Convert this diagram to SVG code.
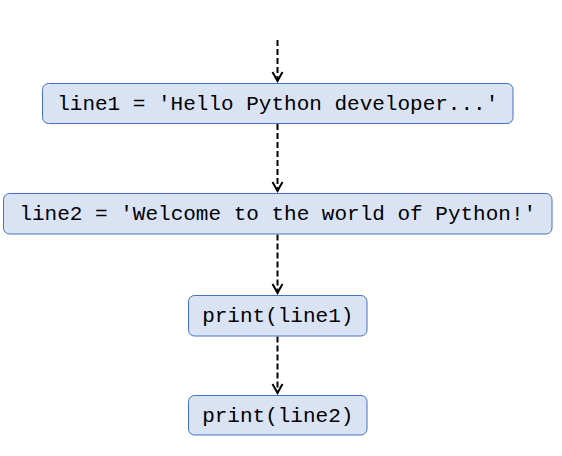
<svg xmlns="http://www.w3.org/2000/svg" width="562" height="456" viewBox="0 0 562 456">
<style>
.box{fill:#dae3f3;stroke:#4472c4;stroke-width:1}
.t{font-family:"Liberation Mono","Courier New",monospace;font-size:21px;fill:#000;text-anchor:middle}
.c{stroke:#000;stroke-width:2;stroke-dasharray:6 3;fill:none}
.h{stroke:#000;stroke-width:2;fill:none}
</style>
<rect width="562" height="456" fill="#fff"/>
<g id="connectors">
<line class="c" x1="277.5" y1="40" x2="277.5" y2="81"/>
<polyline class="h" points="272.5,72 277.5,81 282.5,72"/>
<line class="c" x1="277.5" y1="124" x2="277.5" y2="191"/>
<polyline class="h" points="272.5,182 277.5,191 282.5,182"/>
<line class="c" x1="277.5" y1="234.5" x2="277.5" y2="293"/>
<polyline class="h" points="272.5,284 277.5,293 282.5,284"/>
<line class="c" x1="277.5" y1="336.5" x2="277.5" y2="393"/>
<polyline class="h" points="272.5,384 277.5,393 282.5,384"/>
</g>
<g id="node1">
<rect class="box" x="42.5" y="83.5" width="470.5" height="40" rx="6"/>
<text class="t" x="277.75" y="110">line1 = 'Hello Python developer...'</text>
</g>
<g id="node2">
<rect class="box" x="3.5" y="193.5" width="548.5" height="40.5" rx="6"/>
<text class="t" x="277.75" y="220">line2 = 'Welcome to the world of Python!'</text>
</g>
<g id="node3">
<rect class="box" x="188.5" y="295.5" width="178.5" height="40.5" rx="6"/>
<text class="t" x="277.75" y="322">print(line1)</text>
</g>
<g id="node4">
<rect class="box" x="188.5" y="395.5" width="178.5" height="39.5" rx="6"/>
<text class="t" x="277.75" y="422">print(line2)</text>
</g>
</svg>
